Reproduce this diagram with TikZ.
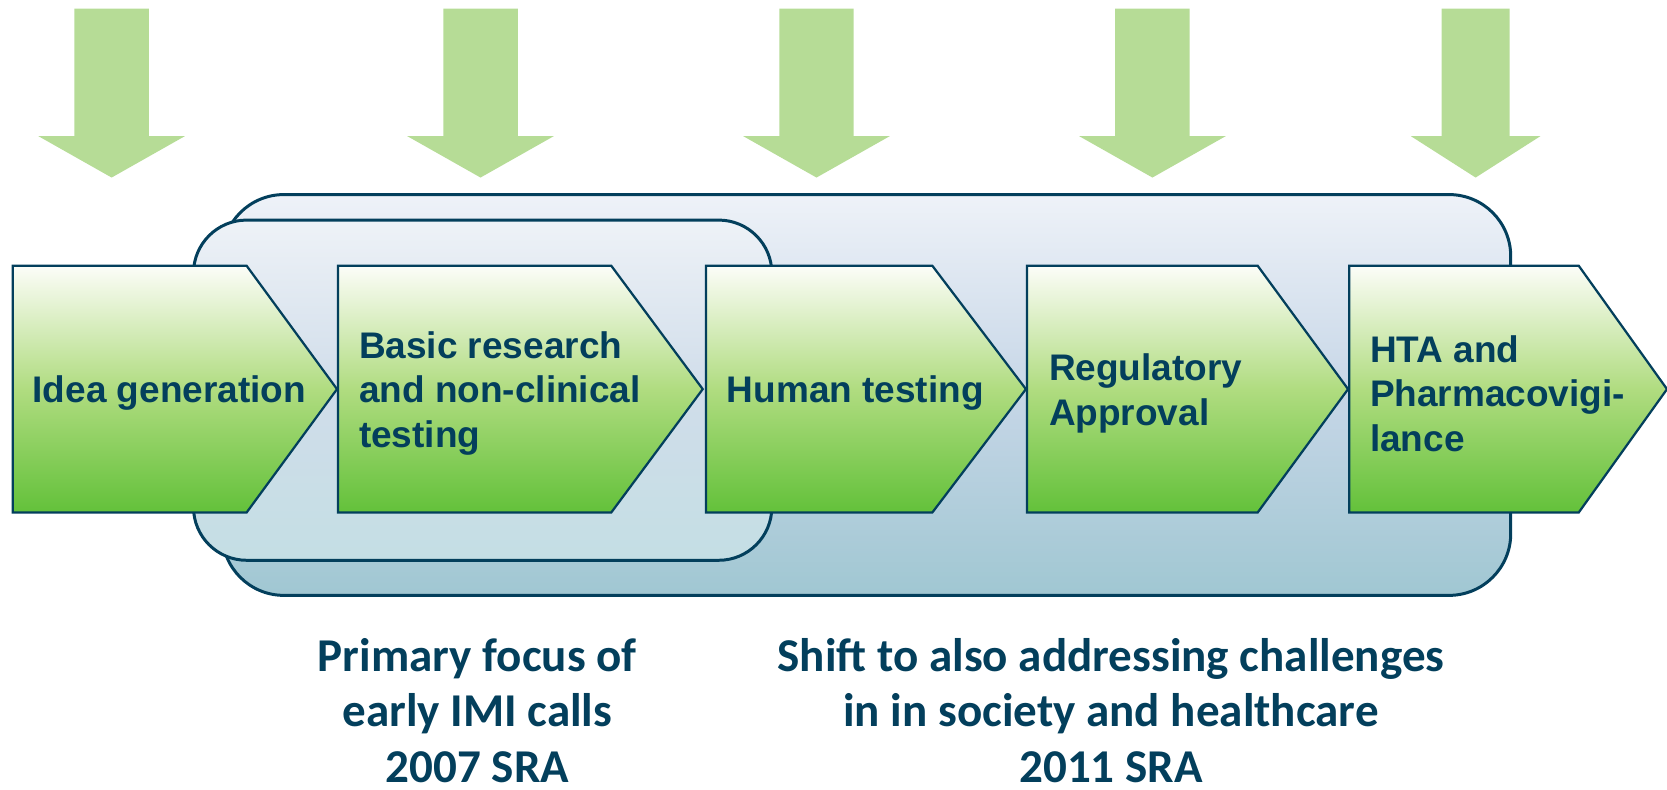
\documentclass[tikz,border=0pt]{standalone}
\usepackage{fontspec}
\setmainfont{Liberation Sans}
\newfontfamily\callfont{Carlito}
\usepackage{tikz}

\definecolor{navy}{RGB}{3,63,92}
\definecolor{arrowgreen}{RGB}{182,220,150}

\begin{document}
\begin{tikzpicture}[x=0.1mm, y=-0.1mm]
        \tikzstyle{every node}=[text=navy, inner sep=0pt]
        \tikzstyle{stage}=[anchor=west, align=left, font=\bfseries\fontsize{9.9}{11.9}\selectfont]
        \tikzstyle{chevron}=[draw=navy, line width=0.6pt, top color={rgb,255:red,252;green,253;blue,248}, bottom color={rgb,255:red,99;green,193;blue,58}, middle color={rgb,255:red,176;green,220;blue,128}]
        \tikzstyle{outerbox}=[draw=navy, line width=0.8pt, rounded corners=5.8mm, top color={rgb,255:red,238;green,242;blue,248}, bottom color={rgb,255:red,160;green,199;blue,210}, middle color={rgb,255:red,198;green,214;blue,231}]
        \tikzstyle{innerbox}=[draw=navy, line width=0.8pt, rounded corners=5mm, top color={rgb,255:red,238;green,242;blue,247}, bottom color={rgb,255:red,196;green,222;blue,228}, middle color={rgb,255:red,208;green,221;blue,234}]
        \tikzstyle{downarrow}=[fill=arrowgreen]
        \tikzstyle{focus}=[anchor=base, align=center, font=\callfont\bfseries\fontsize{12.6}{14.9}\selectfont]
        \useasboundingbox (0,0) rectangle (1568,743);
        % arrows on top
        \fill[downarrow] (70,8) -- (140,8) -- (140,128) -- (174,128) -- (105,167) -- (36,128) -- (70,128) -- cycle;
        \fill[downarrow] (417,8) -- (487,8) -- (487,128) -- (521,128) -- (452,167) -- (383,128) -- (417,128) -- cycle;
        \fill[downarrow] (733,8) -- (803,8) -- (803,128) -- (837,128) -- (768,167) -- (699,128) -- (733,128) -- cycle;
        \fill[downarrow] (1049,8) -- (1119,8) -- (1119,128) -- (1153,128) -- (1084,167) -- (1015,128) -- (1049,128) -- cycle;
        \fill[downarrow] (1356,8) -- (1420,8) -- (1420,128) -- (1449,128) -- (1388,167) -- (1327,128) -- (1356,128) -- cycle;
        % focus areas
        \draw[outerbox] (209,183) rectangle (1421,560);
        \draw[innerbox] (182,207) rectangle (726,527);
        % stages
        \draw[chevron] (12,250) -- (232,250) -- (317,366) -- (232,482) -- (12,482) -- cycle;
        \draw[chevron] (318,250) -- (575,250) -- (661,366) -- (575,482) -- (318,482) -- cycle;
        \draw[chevron] (664,250) -- (877,250) -- (965,366) -- (877,482) -- (664,482) -- cycle;
        \draw[chevron] (966,250) -- (1183,250) -- (1268,366) -- (1183,482) -- (966,482) -- cycle;
        \draw[chevron] (1269,250) -- (1485,250) -- (1568,366) -- (1485,482) -- (1269,482) -- cycle;
        \node[stage] (idea) at (30,370) {Idea generation};
        \node[stage] (basic) at (337,370) {Basic research\\and non-clinical\\testing};
        \node[stage] (human) at (683,370) {Human testing};
        \node[stage] (regul) at (986,370) {Regulatory\\Approval};
        \node[stage] (hta) at (1288,370) {HTA and\\Pharmacovigi-\\lance};
        % calls below
        \node[focus] (early) at (449,736) {Primary focus of\\early IMI calls\\2007 SRA};
        \node[focus] (shift) at (1045,736) {Shift to also addressing challenges\\in in society and healthcare\\2011 SRA};
      \end{tikzpicture}
\end{document}
